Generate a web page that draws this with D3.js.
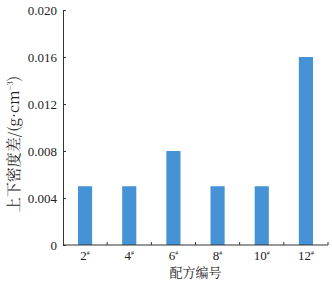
<!DOCTYPE html>
<html>
<head>
<meta charset="utf-8">
<script src="https://cdn.jsdelivr.net/npm/d3@7"></script>
<style>
  body { margin: 0; background: #fff; }
</style>
</head>
<body>
<div id="chart"></div>
<script>
// data
var categories = ["2", "4", "6", "8", "10", "12"];
var values = [0.005, 0.005, 0.008, 0.005, 0.005, 0.016];
var yTicks = [0, 0.004, 0.008, 0.012, 0.016, 0.020];

var serif = "'Liberation Serif', 'DejaVu Serif', serif";
var cjk = "'Noto Serif CJK SC', 'Liberation Serif', 'Noto Sans CJK SC', serif";

var width = 332, height = 281;
var margin = { top: 10, right: 4, bottom: 36, left: 63 };

var svg = d3.select("#chart").append("svg")
  .attr("width", width)
  .attr("height", height);

var x = d3.scaleBand()
  .domain(categories)
  .range([margin.left, width - margin.right])
  .paddingInner(0.68)
  .paddingOuter(0.34);

var y = d3.scaleLinear()
  .domain([0, 0.020])
  .range([height - margin.bottom, margin.top]);

// bars
svg.selectAll(".bar")
  .data(values)
  .enter().append("rect")
  .attr("class", "bar")
  .attr("x", function(d, i) { return x(categories[i]); })
  .attr("y", function(d) { return y(d); })
  .attr("width", x.bandwidth())
  .attr("height", function(d) { return y(0) - y(d); })
  .attr("fill", "#4592d4");

// y axis
var yAxis = svg.append("g")
  .attr("transform", "translate(" + margin.left + ",0)")
  .call(d3.axisLeft(y).tickValues(yTicks).tickSizeInner(-3).tickSizeOuter(0).tickPadding(6)
    .tickFormat(function(d) { return d === 0 ? "0" : d3.format(".3f")(d); }));
yAxis.attr("font-family", null);
yAxis.select(".domain").attr("stroke", "#333");
yAxis.selectAll(".tick line").attr("stroke", "#333");
yAxis.selectAll(".tick text")
  .style("font-family", serif)
  .style("font-size", "13px")
  .attr("fill", "#222");

// x axis: line plus ticks at band boundaries
var x0 = margin.left, x1 = width - margin.right;
var step = x.step();
var xg = svg.append("g").attr("transform", "translate(0," + y(0) + ")");
xg.append("line").attr("x1", x0).attr("x2", x1).attr("stroke", "#333");
var bounds = categories.map(function(c, i) { return x0 + step * (i + 1); });
xg.selectAll(".bt").data(bounds).enter().append("line")
  .attr("x1", function(d) { return d; }).attr("x2", function(d) { return d; })
  .attr("y1", 0).attr("y2", -3).attr("stroke", "#333");

var labs = xg.selectAll(".xl").data(categories).enter().append("text")
  .attr("x", function(d) { return x(d) + x.bandwidth() / 2; })
  .attr("y", 15)
  .attr("text-anchor", "middle")
  .style("font-family", serif)
  .style("font-size", "13px")
  .attr("fill", "#222");
labs.append("tspan").text(function(d) { return d; });
labs.append("tspan").attr("dy", -5).style("font-size", "6px").text("#");

// axis titles
svg.append("text")
  .attr("x", (x0 + x1) / 2)
  .attr("y", 277)
  .attr("text-anchor", "middle")
  .style("font-family", cjk)
  .style("font-size", "13px")
  .attr("fill", "#222")
  .text("配方编号");

var yt = svg.append("text")
  .attr("transform", "translate(19," + 144 + ") rotate(-90)")
  .attr("text-anchor", "middle")
  .style("font-family", cjk)
  .style("font-size", "15px")
  .attr("fill", "#222");
yt.append("tspan").text("上下密度差/(g·cm");
yt.append("tspan").attr("dy", -6).style("font-size", "8px").text("−3");
yt.append("tspan").attr("dy", 6).text(")");
</script>
</body>
</html>
